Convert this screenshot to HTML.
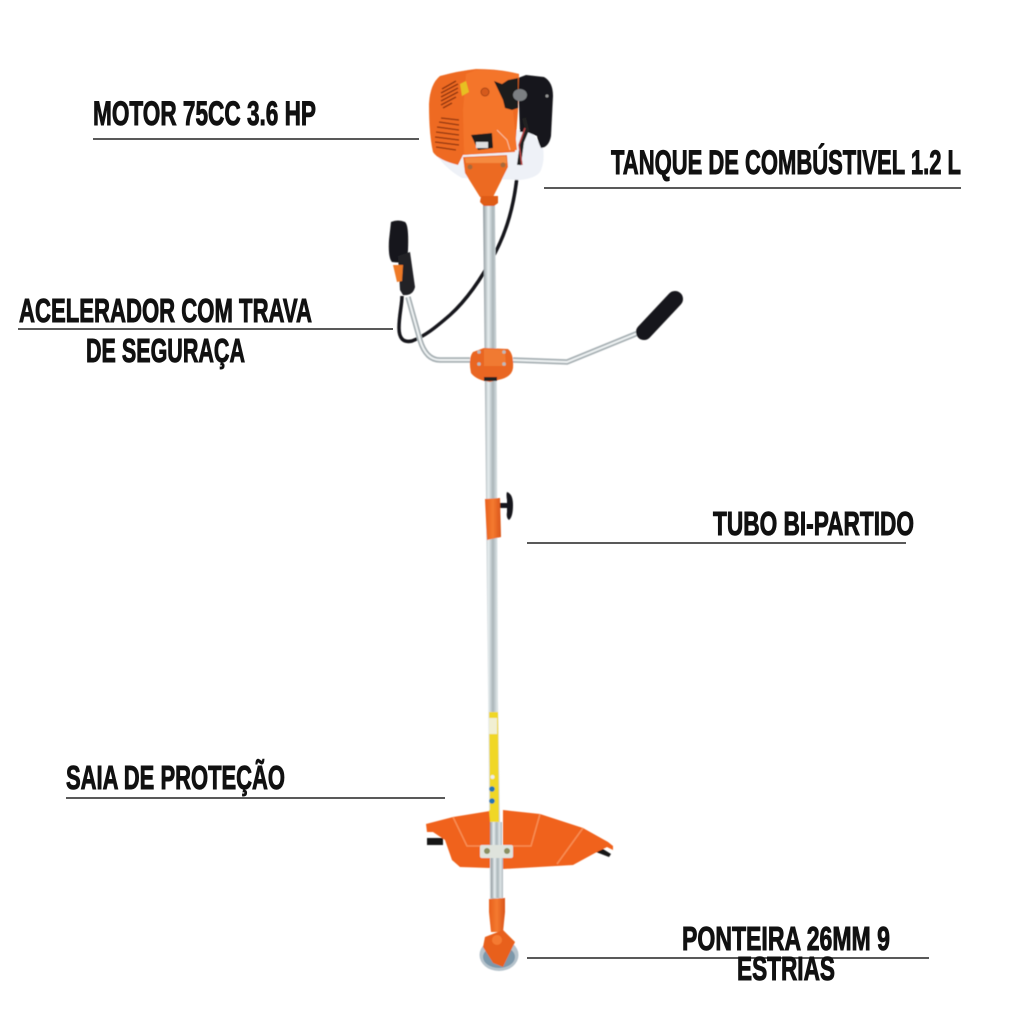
<!DOCTYPE html>
<html><head><meta charset="utf-8"><style>
html,body{margin:0;padding:0;background:#fff;width:1024px;height:1024px;overflow:hidden}
svg{display:block}
text{font-family:"Liberation Sans",sans-serif;font-weight:bold;fill:#111;stroke:#111;stroke-width:1}
</style></head><body>
<svg width="1024" height="1024" viewBox="0 0 1024 1024" xmlns="http://www.w3.org/2000/svg">
<defs>
<linearGradient id="t" x1="0" x2="1" y1="0" y2="0"><stop offset="0" stop-color="#8d979c"/><stop offset=".3" stop-color="#e8eef0"/><stop offset=".55" stop-color="#a9b4b8"/><stop offset=".8" stop-color="#dfe6e8"/><stop offset="1" stop-color="#aab3b6"/></linearGradient>
<linearGradient id="o" x1="0" x2="1" y1="0" y2="0"><stop offset="0" stop-color="#e8601c"/><stop offset=".5" stop-color="#f47a30"/><stop offset="1" stop-color="#d9541a"/></linearGradient>
<filter id="b" x="-5%" y="-5%" width="110%" height="110%"><feGaussianBlur stdDeviation="0.6"/></filter>
</defs>
<rect width="1024" height="1024" fill="#fff"/>

<g filter="url(#b)">
<!-- cable -->
<path d="M518 165 C516 195 510 225 495 253 C485 272 470 297 450 315 C435 328 425 336 412 341 C403 343 399 338 399 328 C399 315 402 305 402 296" fill="none" stroke="#15161a" stroke-width="3.5"/>

<!-- shell -->
<path d="M433 150 Q444 168 462 178 L520 180 Q538 178 541 170 Q545 160 543 148 L530 130 L480 130Z" fill="#eef1f7"/>
<!-- tank -->
<path d="M526 75 L544 77 Q553 82 553 96 L551 136 Q549 147 541 148 Q538 142 537 136 L527 132 L520 132 L518 78Z" fill="#17181c"/>
<circle cx="547" cy="96" r="1.500" fill="#999"/>
<!-- engine -->
<path d="M429 104 Q430 84 440 76 Q458 71 476 69 Q500 69 519 74 L518 110 L515 152 L463 155 L458 165 Q438 160 433 152 Q429 135 429 104Z" fill="#ee6a22"/>
<path d="M466 74 L476 70 Q500 70 519 74 L513 110 L517 150 L464 155 L463 110Z" fill="#f4752a"/>
<path d="M494 81 L502 84 L508 80 L518 78 L518 108 L512 110 L505 108 L503 100 Z" fill="#1a1a1c"/>
<circle cx="521" cy="96" r="0" fill="none"/>
<ellipse cx="520" cy="95" rx="7" ry="6" fill="#7c7f82"/>
<path d="M524 118 L527 130 L522 142 L519 165" fill="none" stroke="#222" stroke-width="4"/>
<path d="M525 128 L519 145 L522 165" fill="none" stroke="#b44" stroke-width="1.500"/>
<g stroke="#8c3210" fill="none">
<path d="M442 89 L456 81M441 93 L458 84M441 97 L458 88M441 101 L458 92M441 105 L456 97M443 108 L452 103" stroke-width="1.400"/>
<path d="M441 118 L459 120M439 122 L459 125M437 127 L459 130M436 132 L459 135M435 137 L459 140M435 142 L459 145M436 147 L456 150" stroke-width="1.300"/>
</g>
<path d="M460 84 L466 81 L469 92 L462 96Z" fill="#e7c020"/>
<circle cx="485" cy="92" r="4" fill="#d55a1c" stroke="#a84515"/>
<path d="M471 135 L492 133 L493 148 L478 150Z" fill="#1a1a1c"/>
<rect x="476" y="142" width="12" height="6" fill="#ddd"/>
<path d="M497 130 L507 140 L510 150" stroke="#fbbf9c" stroke-width="1" fill="none"/>

<!-- tube -->
<path d="M483 200 L495 200 L497 400 L498 700 L501 905 L490 905 L488 700 L485 400Z" fill="url(#t)"/>
<path d="M489 712 L498 712 L499 822 L490 822Z" fill="#f0d728"/>
<rect x="489" y="718" width="8" height="16" fill="#f1efd2"/>
<circle cx="492" cy="789" r="2.800" fill="#2376b5"/><circle cx="492" cy="801" r="2.800" fill="#2376b5"/>
<circle cx="492.500" cy="777" r="2" fill="#eee"/>

<!-- neck -->
<path d="M463 157 L507 155 L508 167 L493 197 L480 197 L465 173Z" fill="#ec6a22"/>
<path d="M465 158 L506 156 L507 163 L466 163Z" fill="#f58a40"/>
<circle cx="470" cy="167" r="2.500" fill="#a86a3a"/><circle cx="503" cy="165" r="2.500" fill="#a86a3a"/>
<path d="M481 196 L498 196 L498 203 L494 206 L484 206 L480 202Z" fill="#df5c18"/>

<!-- handlebar -->
<path d="M408 297 L420 340 Q426 360 440 360 L470 360 M513 360 L567 362 L638 333" fill="none" stroke="#a7b0b4" stroke-width="5.500"/>
<path d="M408 297 L420 340 Q426 360 440 360 L470 360 M513 360 L567 362 L638 333" fill="none" stroke="#eef2f3" stroke-width="2"/>
<!-- left grip -->
<path d="M391 222 Q398 219 405 222 Q409 225 408 250 L407 262 Q400 263 392 262 Q388 258 389 240Z" fill="#15161a"/>
<path d="M398 256 L410 252 L415 287 Q413 296 403 295 L400 290Z" fill="#222327"/>
<path d="M393 265 L403 265 L402 281 L397 282Z" fill="#ef7a26"/>
<!-- right grip -->
<path d="M644 332 L675 299" stroke="#15161a" stroke-width="16" stroke-linecap="round" fill="none"/>
<!-- clamp -->
<path d="M473 352 L484 348 L508 349 Q514 354 513 368 Q512 376 502 379 L490 382 Q476 380 471 373 Q468 358 473 352Z" fill="#e96620"/>
<path d="M484 349 L505 350 L506 366 L484 366Z" fill="#f07a30"/>
<rect x="484" y="377" width="13" height="4" fill="#222"/>
<circle cx="479" cy="352" r="1.800" fill="#bbb"/><circle cx="504" cy="352" r="1.800" fill="#bbb"/>
<circle cx="479" cy="364" r="1.800" fill="#bbb"/><circle cx="504" cy="364" r="1.800" fill="#bbb"/>

<!-- adjuster -->
<path d="M500 503 L508 503 L508 508 L500 508Z" fill="#18181b"/>
<path d="M507 492 Q513 494 513 505 Q513 517 509 520 Q506 518 507 512 L507 500 Q506 494 507 492Z" fill="#18181b"/>
<path d="M485 499 L500 498 L501 537 L487 540Z" fill="url(#o)"/>

<!-- guard -->
<path d="M427 838 L443 838 L443 845 L427 845Z" fill="#141414"/>
<path d="M596 852 L603 849 L611 854 L609 857Z" fill="#141414"/>
<path d="M426 824 L453 817 L490 811 L490 868 L460 867 L452 860 L445 840 L433 832 L427 832Z" fill="#f0621f"/>
<path d="M503 810 L540 814 L583 828 L608 842 L613 846 L613 850 L607 847 L595 853 L573 865 L503 869Z" fill="#f0621f"/>
<path d="M453 817 L467 846 L488 846 M540 814 L531 846 L505 846 M583 828 L557 864" fill="none" stroke="#f78e52" stroke-width="1.500"/>
<path d="M489 810 L498 810 L499 822 L490 822Z" fill="#f0d728"/>
<rect x="490" y="822" width="12" height="25" fill="url(#t)"/>
<rect x="480" y="845" width="33" height="13" rx="2" fill="#dfe3dc"/>
<circle cx="487" cy="851" r="3" fill="#8a8f60"/><circle cx="507" cy="851" r="3" fill="#8a8f60"/>
<rect x="491" y="858" width="12" height="40" fill="url(#t)"/>

<!-- head -->
<path d="M489 899 L505 898 L505 912 L503 932 L491 932 L489 912Z" fill="url(#o)"/>
<ellipse cx="499" cy="955" rx="19.500" ry="16" fill="#b6c3cc"/>
<ellipse cx="499" cy="957" rx="16" ry="11" fill="#7d98aa"/>
<path d="M485 937 L503 930 L515 942 L503 967 L493 963 L483 947Z" fill="#e8601c"/>
<circle cx="497" cy="940" r="5" fill="#f47a30"/>
</g>

<!-- leader lines -->
<g stroke="#222" stroke-width="1.500">
<line x1="93" y1="139" x2="419" y2="139"/>
<line x1="544" y1="188" x2="961" y2="188"/>
<line x1="18" y1="329" x2="393" y2="329"/>
<line x1="527" y1="543" x2="906" y2="543"/>
<line x1="66" y1="798" x2="445" y2="798"/>
<line x1="527" y1="958" x2="929" y2="958"/>
</g>

<!-- labels -->
<text x="93" y="125" font-size="34" textLength="223" lengthAdjust="spacingAndGlyphs">MOTOR 75CC 3.6 HP</text>
<text x="611" y="174" font-size="34" textLength="350" lengthAdjust="spacingAndGlyphs">TANQUE DE COMBÚSTIVEL 1.2 L</text>
<text x="19" y="322" font-size="33" textLength="293" lengthAdjust="spacingAndGlyphs">ACELERADOR COM TRAVA</text>
<text x="86" y="362" font-size="33" textLength="159" lengthAdjust="spacingAndGlyphs">DE SEGURAÇA</text>
<text x="713" y="535" font-size="33" textLength="201" lengthAdjust="spacingAndGlyphs">TUBO BI-PARTIDO</text>
<text x="66" y="789" font-size="33" textLength="219" lengthAdjust="spacingAndGlyphs">SAIA DE PROTEÇÃO</text>
<text x="682" y="950" font-size="33" textLength="208" lengthAdjust="spacingAndGlyphs">PONTEIRA 26MM 9</text>
<text x="737" y="980" font-size="33" textLength="98" lengthAdjust="spacingAndGlyphs">ESTRIAS</text>
</svg>
</body></html>
